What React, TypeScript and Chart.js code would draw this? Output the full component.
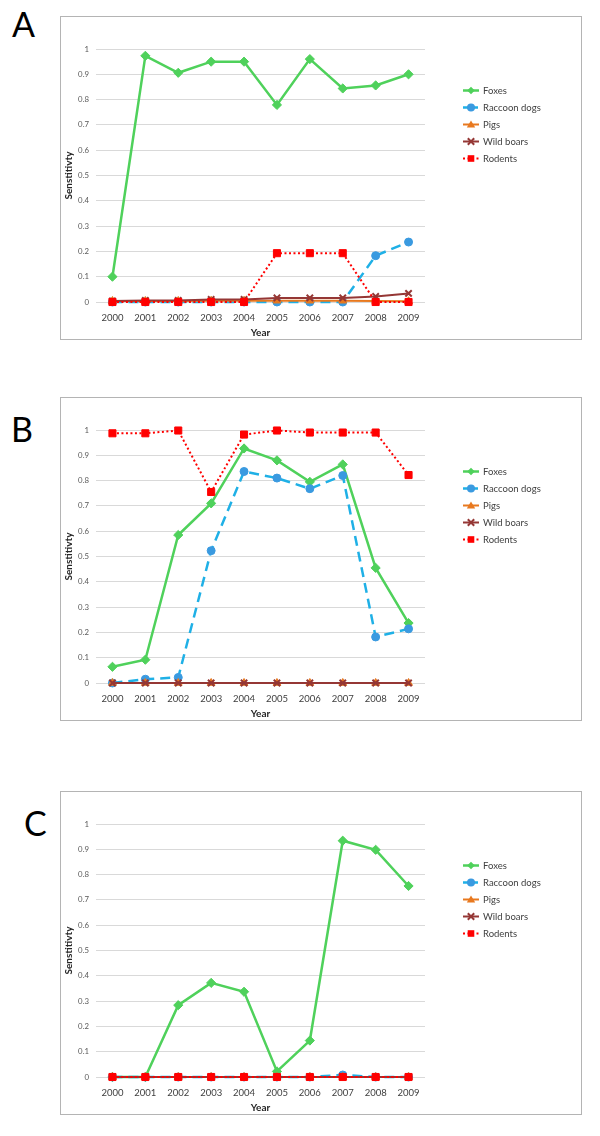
import React, { useEffect, useRef } from "react";
import { Chart, registerables } from "chart.js";

Chart.register(...registerables);

const years = ["2000", "2001", "2002", "2003", "2004", "2005", "2006", "2007", "2008", "2009"];
const yTickLabels = ["0", "0.1", "0.2", "0.3", "0.4", "0.5", "0.6", "0.7", "0.8", "0.9", "1"];
const seriesNames = ["Foxes", "Raccoon dogs", "Pigs", "Wild boars", "Rodents"];
const panelLetters = ["A", "B", "C"];

// Panel A
const foxesA = [0.1, 0.973, 0.906, 0.95, 0.95, 0.779, 0.96, 0.844, 0.856, 0.9];
const raccoonA = [0, 0, 0, 0, 0, 0, 0, 0, 0.183, 0.237];
const pigsA = [0.004, 0.004, 0.004, 0.005, 0.005, 0.005, 0.005, 0.005, 0.004, 0.003];
const boarsA = [0.004, 0.006, 0.006, 0.01, 0.01, 0.016, 0.016, 0.016, 0.022, 0.034];
const rodentsA = [0, 0, 0, 0, 0, 0.193, 0.193, 0.193, 0, 0];

// Panel B
const foxesB = [0.064, 0.092, 0.585, 0.71, 0.927, 0.88, 0.795, 0.864, 0.455, 0.237];
const raccoonB = [0, 0.015, 0.022, 0.523, 0.836, 0.81, 0.768, 0.82, 0.182, 0.214];
const pigsB = [0, 0, 0, 0, 0, 0, 0, 0, 0, 0];
const boarsB = [0, 0, 0, 0, 0, 0, 0, 0, 0, 0];
const rodentsB = [0.987, 0.987, 0.998, 0.755, 0.982, 0.998, 0.99, 0.99, 0.99, 0.822];

// Panel C
const foxesC = [0, 0, 0.284, 0.372, 0.337, 0.022, 0.144, 0.934, 0.898, 0.755];
const raccoonC = [0, 0, 0, 0, 0, 0, 0, 0.008, 0, 0];
const pigsC = [0, 0, 0, 0, 0, 0, 0, 0, 0, 0];
const boarsC = [0, 0, 0, 0, 0, 0, 0, 0, 0, 0];
const rodentsC = [0, 0, 0, 0, 0, 0, 0, 0, 0, 0];

const FONT = "Lato, 'Open Sans', sans-serif";

const styles = [
  { line: "#4fd15b", fill: "#4fd15b", dash: [] as number[], width: 2.5, point: "rectRot", radius: 4.6, legendDash: [] as number[] },
  { line: "#1fb0e6", fill: "#3a9ae0", dash: [10, 6], width: 2.5, point: "circle", radius: 4, legendDash: [6, 3] },
  { line: "#e8791f", fill: "#e8791f", dash: [], width: 2, point: "triangle", radius: 4.5, legendDash: [] },
  { line: "#953735", fill: "#953735", dash: [], width: 2, point: "crossRot", radius: 4.5, legendDash: [] },
  { line: "#ff0000", fill: "#ff0000", dash: [2, 2.5], width: 2, point: "rect", radius: 5, legendDash: [2, 2.5] },
];

function drawMarker(ctx: CanvasRenderingContext2D, kind: string, x: number, y: number, color: string) {
  ctx.save();
  ctx.setLineDash([]);
  ctx.fillStyle = color;
  ctx.strokeStyle = color;
  ctx.beginPath();
  if (kind === "rectRot") {
    ctx.moveTo(x, y - 3.8);
    ctx.lineTo(x + 3.8, y);
    ctx.lineTo(x, y + 3.8);
    ctx.lineTo(x - 3.8, y);
    ctx.closePath();
    ctx.fill();
  } else if (kind === "circle") {
    ctx.arc(x, y, 4, 0, Math.PI * 2);
    ctx.fill();
  } else if (kind === "triangle") {
    ctx.moveTo(x, y - 4);
    ctx.lineTo(x + 4.2, y + 3);
    ctx.lineTo(x - 4.2, y + 3);
    ctx.closePath();
    ctx.fill();
  } else if (kind === "crossRot") {
    ctx.lineWidth = 2;
    ctx.moveTo(x - 3.2, y - 3.2);
    ctx.lineTo(x + 3.2, y + 3.2);
    ctx.moveTo(x + 3.2, y - 3.2);
    ctx.lineTo(x - 3.2, y + 3.2);
    ctx.stroke();
  } else {
    ctx.rect(x - 3.3, y - 3.3, 6.6, 6.6);
    ctx.fill();
  }
  ctx.restore();
}

const legendPlugin = {
  id: "excelLegend",
  afterDraw(chart: any) {
    const ctx: CanvasRenderingContext2D = chart.ctx;
    const x0 = 402;
    const y0 = 73.5;
    const dy = 17;
    chart.data.datasets.forEach((ds: any, i: number) => {
      const st = styles[i];
      const y = y0 + i * dy;
      ctx.save();
      ctx.strokeStyle = st.line;
      ctx.lineWidth = st.width;
      ctx.setLineDash(st.legendDash);
      ctx.beginPath();
      ctx.moveTo(x0, y);
      ctx.lineTo(x0 + 16, y);
      ctx.stroke();
      ctx.restore();
      drawMarker(ctx, st.point, x0 + 8, y, st.fill);
      ctx.save();
      ctx.fillStyle = "#404040";
      ctx.font = `9.5px ${FONT}`;
      ctx.textBaseline = "middle";
      ctx.textAlign = "left";
      ctx.fillText(ds.label, x0 + 20, y + 0.5);
      ctx.restore();
    });
  },
};

type PanelProps = {
  index: number;
  top: number;
  letterLeft: number;
  letterTop: number;
  series: number[][];
};

function Panel({ index, top, letterLeft, letterTop, series }: PanelProps) {
  const ref = useRef<HTMLCanvasElement>(null);
  useEffect(() => {
    if (!ref.current) return;
    const order = [5, 4, 3, 2, 1];
    const chart = new Chart(ref.current, {
      type: "line",
      data: {
        labels: years,
        datasets: series.map((vals, i) => ({
          label: seriesNames[i],
          data: vals,
          borderColor: styles[i].line,
          backgroundColor: styles[i].fill,
          pointBackgroundColor: styles[i].fill,
          pointBorderColor: styles[i].fill,
          pointBorderWidth: i === 3 ? 2 : 1,
          borderWidth: styles[i].width,
          borderDash: styles[i].dash,
          pointStyle: styles[i].point as any,
          pointRadius: styles[i].radius,
          tension: 0,
          fill: false,
          clip: false,
          order: order[i],
        })),
      },
      options: {
        responsive: false,
        animation: false,
        layout: { padding: { top: 32, right: 156, left: 0, bottom: 0 } },
        plugins: { legend: { display: false }, tooltip: { enabled: false } },
        scales: {
          x: {
            offset: true,
            grid: { display: false, drawTicks: false },
            border: { display: false },
            ticks: { color: "#404040", font: { family: FONT, size: 9.5 }, padding: 10, maxRotation: 0 },
            title: {
              display: true,
              text: "Year",
              color: "#262626",
              font: { family: FONT, size: 10, weight: "bold" },
              padding: { top: 0, bottom: 0 },
            },
            afterFit: (s: any) => {
              s.height = 37;
            },
          },
          y: {
            min: 0,
            max: 1,
            grid: { color: "#d9d9d9", lineWidth: 1, drawTicks: false },
            border: { display: false },
            ticks: {
              stepSize: 0.1,
              color: "#595959",
              font: { family: FONT, size: 7.8 },
              padding: 7,
              callback: (_v: any, i: number) => yTickLabels[i],
            },
            title: {
              display: true,
              text: "Senstitivty",
              color: "#262626",
              font: { family: FONT, size: 10, weight: "bold" },
              padding: { top: 2, bottom: 0 },
            },
            afterFit: (s: any) => {
              s.width = 35;
            },
          },
        },
      },
      plugins: [legendPlugin],
    } as any);
    return () => chart.destroy();
  }, []);
  return (
    <>
      <div
        style={{
          position: "absolute",
          left: letterLeft,
          top: letterTop,
          fontFamily: FONT,
          fontSize: 34,
          lineHeight: "34px",
          color: "#000",
        }}
      >
        {panelLetters[index]}
      </div>
      <div
        style={{
          position: "absolute",
          left: 60,
          top,
          width: 520,
          height: 322,
          border: "1px solid #b4b4b4",
          background: "#fff",
        }}
      >
        <canvas ref={ref} width={520} height={322} style={{ display: "block", width: 520, height: 322 }} />
      </div>
    </>
  );
}

export default function App() {
  return (
    <div style={{ position: "absolute", left: 0, top: 0, width: 600, height: 1136, background: "#fff" }}>
      <Panel index={0} top={16} letterLeft={12} letterTop={7} series={[foxesA, raccoonA, pigsA, boarsA, rodentsA]} />
      <Panel index={1} top={397} letterLeft={11} letterTop={412} series={[foxesB, raccoonB, pigsB, boarsB, rodentsB]} />
      <Panel index={2} top={791} letterLeft={24} letterTop={806} series={[foxesC, raccoonC, pigsC, boarsC, rodentsC]} />
    </div>
  );
}
